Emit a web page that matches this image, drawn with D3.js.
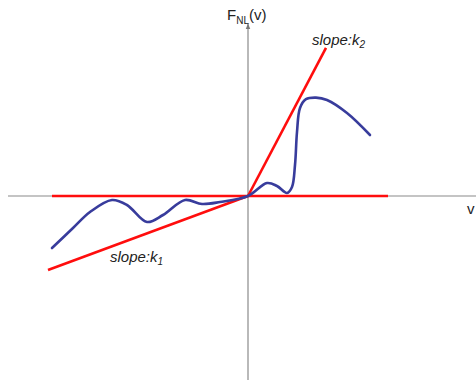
<!DOCTYPE html>
<html>
<head>
<meta charset="utf-8">
<script src="https://cdn.jsdelivr.net/npm/d3@7"></script>
<style>
  html, body { margin: 0; padding: 0; background: #fff; }
  svg { display: block; }
  text { font-family: "Liberation Sans", Arial, Helvetica, sans-serif; fill: #222; }
</style>
</head>
<body>
<svg id="chart" width="476" height="381"></svg>
<script>
// Nonlinear characteristic F_NL(v), sampled at (v, F) points
const curveV = [-4.9, -4.375, -3.95, -3.4, -3.025, -2.525, -2.125, -1.575, -1.15, -0.7, 0,
                0.475, 0.725, 0.975, 1.1, 1.175, 1.225, 1.3, 1.45, 1.7, 1.975, 2.475, 3.05];
const curveF = [-1.3, -0.8, -0.4, -0.1, -0.225, -0.65, -0.475, -0.1, -0.2, -0.15, 0,
                0.325, 0.25, 0.075, 0.225, 0.775, 1.6, 2.2, 2.42, 2.46, 2.4, 2.075, 1.525];

// Sector bounds: slope lines k1, k2 and the zero line
const k1 = 0.37;
const k2 = 1.9;
const k1Range = [-5, 0];
const k2Range = [0, 1.95];
const zeroRange = [-4.9, 3.5];

// Axis extents
const vAxisRange = [-6, 6.0];
const fAxisRange = [-4.6, 4.3];

const labels = { y: "F", ySub: "NL", yTail: "(v)", x: "v", slope: "slope:k", k1: "1", k2: "2" };

const svg = d3.select("#chart");
const x = d3.scaleLinear().domain([-6, 5.7]).range([8, 476]);
const y = d3.scaleLinear().domain([-4.6, 4.3]).range([380, 24]);

svg.append("defs").append("marker")
  .attr("id", "arrow").attr("viewBox", "0 0 10 10")
  .attr("refX", 9).attr("refY", 5)
  .attr("markerWidth", 5).attr("markerHeight", 5)
  .attr("orient", "auto")
  .append("path").attr("d", "M0,1 L10,5 L0,9 Z").attr("fill", "#777");

// Axes
svg.append("line")
  .attr("x1", x(vAxisRange[0])).attr("x2", x(vAxisRange[1]))
  .attr("y1", y(0)).attr("y2", y(0))
  .attr("stroke", "#8a8a8a").attr("stroke-width", 1.2)
  .attr("marker-end", "url(#arrow)");
svg.append("line")
  .attr("x1", x(0)).attr("x2", x(0))
  .attr("y1", y(fAxisRange[0])).attr("y2", y(fAxisRange[1]))
  .attr("stroke", "#8a8a8a").attr("stroke-width", 1.2)
  .attr("marker-end", "url(#arrow)");

// Sector lines
const red = "#ff0d0d";
const sector = [
  [[zeroRange[0], 0], [zeroRange[1], 0]],
  [[k1Range[0], k1 * k1Range[0]], [k1Range[1], k1 * k1Range[1]]],
  [[k2Range[0], k2 * k2Range[0]], [k2Range[1], k2 * k2Range[1]]]
];
const line = d3.line().x(d => x(d[0])).y(d => y(d[1]));
svg.selectAll("path.sector").data(sector).enter().append("path")
  .attr("class", "sector")
  .attr("d", line)
  .attr("fill", "none").attr("stroke", red).attr("stroke-width", 2.6);

// Nonlinearity curve
const pts = curveV.map((v, i) => [v, curveF[i]]);
svg.append("path")
  .attr("d", d3.line().x(d => x(d[0])).y(d => y(d[1])).curve(d3.curveCatmullRom.alpha(0.5))(pts))
  .attr("fill", "none").attr("stroke", "#383c9c").attr("stroke-width", 2.6)
  .attr("stroke-linejoin", "round").attr("stroke-linecap", "round");

// Labels
const yl = svg.append("text").attr("x", 227).attr("y", 20).attr("font-size", 15);
yl.append("tspan").text(labels.y);
yl.append("tspan").attr("font-size", 10).attr("dy", 4).text(labels.ySub);
yl.append("tspan").attr("dy", -4).text(labels.yTail);

svg.append("text").attr("x", 467).attr("y", 214).attr("font-size", 15).text(labels.x);

const s2 = svg.append("text").attr("x", 312).attr("y", 45).attr("font-size", 15).attr("font-style", "italic");
s2.append("tspan").text(labels.slope);
s2.append("tspan").attr("font-size", 10).attr("dy", 3).text(labels.k2);

const s1 = svg.append("text").attr("x", 110).attr("y", 262).attr("font-size", 15).attr("font-style", "italic");
s1.append("tspan").text(labels.slope);
s1.append("tspan").attr("font-size", 10).attr("dy", 3).text(labels.k1);
</script>
</body>
</html>
